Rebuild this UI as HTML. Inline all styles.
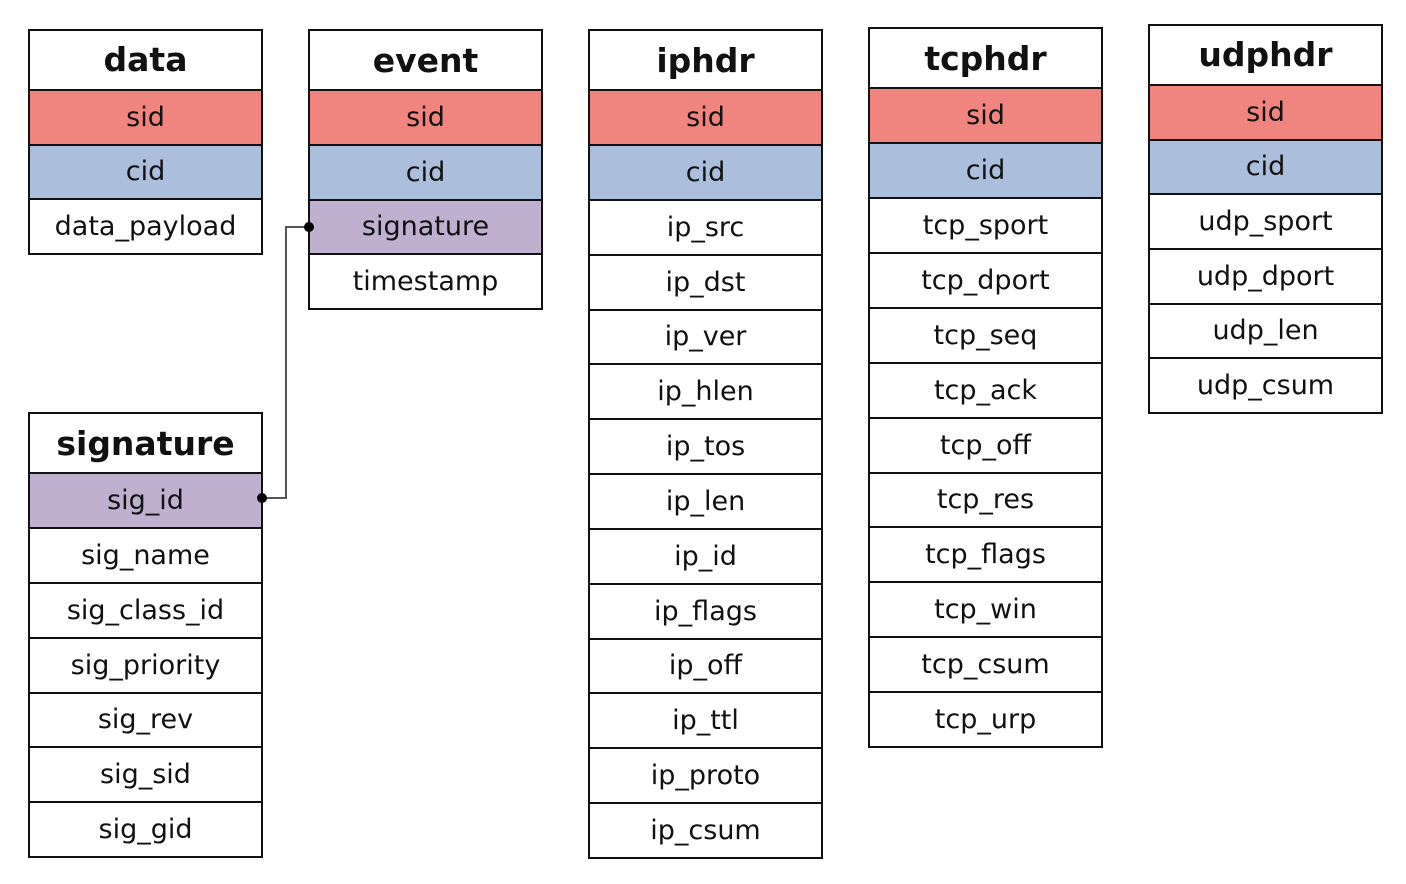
<!DOCTYPE html>
<html><head><meta charset="utf-8"><style>
body{margin:0;width:1406px;height:884px;background:#fff;position:relative;overflow:hidden;font-family:"DejaVu Sans","Noto Sans CJK KR","Liberation Sans",sans-serif;}
.t{position:absolute;width:235px;border:2px solid #111;display:flex;flex-direction:column;box-sizing:border-box;}
.t div{flex:1;display:flex;align-items:center;justify-content:center;font-size:27px;color:#111;border-top:2px solid #111;}
.t div.h{flex:1.1;font-weight:bold;font-size:33px;border-top:none;}
.r{background:#f08580}.b{background:#abbfdc}.p{background:#bfb0cf}
</style></head><body>
<div class="t" style="left:28px;top:29px;height:226px"><div class="h">data</div><div class="r">sid</div><div class="b">cid</div><div>data_payload</div></div>
<div class="t" style="left:308px;top:29px;height:281px"><div class="h">event</div><div class="r">sid</div><div class="b">cid</div><div class="p">signature</div><div>timestamp</div></div>
<div class="t" style="left:588px;top:29px;height:830px"><div class="h">iphdr</div><div class="r">sid</div><div class="b">cid</div><div>ip_src</div><div>ip_dst</div><div>ip_ver</div><div>ip_hlen</div><div>ip_tos</div><div>ip_len</div><div>ip_id</div><div>ip_flags</div><div>ip_off</div><div>ip_ttl</div><div>ip_proto</div><div>ip_csum</div></div>
<div class="t" style="left:868px;top:27px;height:721px"><div class="h">tcphdr</div><div class="r">sid</div><div class="b">cid</div><div>tcp_sport</div><div>tcp_dport</div><div>tcp_seq</div><div>tcp_ack</div><div>tcp_off</div><div>tcp_res</div><div>tcp_flags</div><div>tcp_win</div><div>tcp_csum</div><div>tcp_urp</div></div>
<div class="t" style="left:1148px;top:24px;height:390px"><div class="h">udphdr</div><div class="r">sid</div><div class="b">cid</div><div>udp_sport</div><div>udp_dport</div><div>udp_len</div><div>udp_csum</div></div>
<div class="t" style="left:28px;top:412px;height:446px"><div class="h">signature</div><div class="p">sig_id</div><div>sig_name</div><div>sig_class_id</div><div>sig_priority</div><div>sig_rev</div><div>sig_sid</div><div>sig_gid</div></div>
<svg style="position:absolute;left:0;top:0" width="1406" height="884">
<polyline points="309,227 286,227 286,498 262,498" fill="none" stroke="#555" stroke-width="2"/>
<circle cx="309" cy="227" r="5" fill="#000"/><circle cx="262" cy="498" r="5" fill="#000"/>
</svg>
</body></html>
